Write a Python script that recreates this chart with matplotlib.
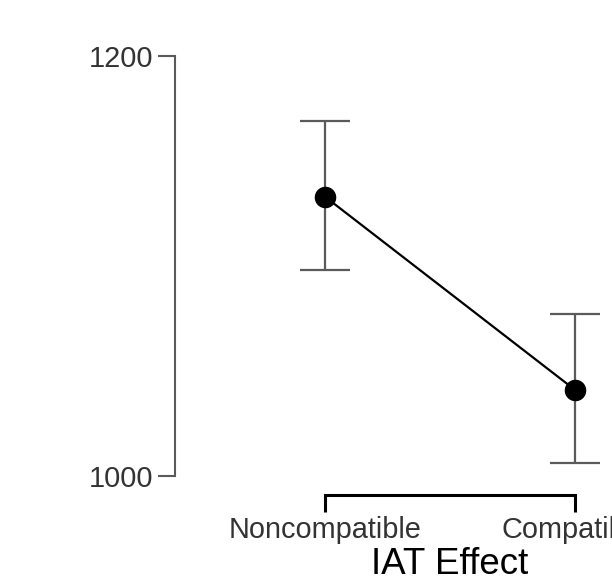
import matplotlib.pyplot as plt

# IAT effect: mean response time per block with 95% CI
conditions = ['Noncompatible', 'Compatible']
means = [1133, 1041]
ci_lower = [1098, 1006]
ci_upper = [1169, 1077]

plt.rcParams['font.family'] = ['Liberation Sans', 'DejaVu Sans']

fig = plt.figure(figsize=(6.12, 5.76), dpi=100)
# axes runs past the right edge, the original plot is cropped there
ax = fig.add_axes([175 / 612, 81 / 576, 550 / 612, 460 / 576])

x = list(range(len(conditions)))
err_low = [m - l for m, l in zip(means, ci_lower)]
err_high = [u - m for m, u in zip(means, ci_upper)]

ax.errorbar(x, means, yerr=[err_low, err_high], fmt='none', ecolor='#5a5a5a',
            elinewidth=1.6, capsize=18, capthick=1.6, zorder=1)
ax.plot(x, means, color='black', linewidth=1.6, zorder=2)
ax.plot(x, means, 'o', color='black', markersize=14.5, zorder=3)

ax.set_xlim(-0.6, 1.6)
ax.set_ylim(990.95, 1210)

ax.set_yticks([1000, 1200])
ax.set_xticks(x)
ax.set_xticklabels(conditions)

ax.spines['top'].set_visible(False)
ax.spines['right'].set_visible(False)
ax.spines['left'].set_bounds(1000, 1200)
ax.spines['left'].set_color('#5a5a5a')
ax.spines['left'].set_linewidth(1.5)
ax.spines['bottom'].set_bounds(0, 1)
ax.spines['bottom'].set_color('black')
ax.spines['bottom'].set_linewidth(2.2)

ax.tick_params(axis='y', length=12, width=1.5, color='#5a5a5a', pad=4,
               labelsize=20.8, labelcolor='#333333')
ax.tick_params(axis='x', length=12, width=2.2, color='black', pad=3,
               labelsize=20.8, labelcolor='#333333')

# axis title is cut by the bottom edge, like in the original
ax.set_xlabel('IAT Effect', fontsize=26.5, color='black', labelpad=2)

fig.savefig('out.png', dpi=100)
